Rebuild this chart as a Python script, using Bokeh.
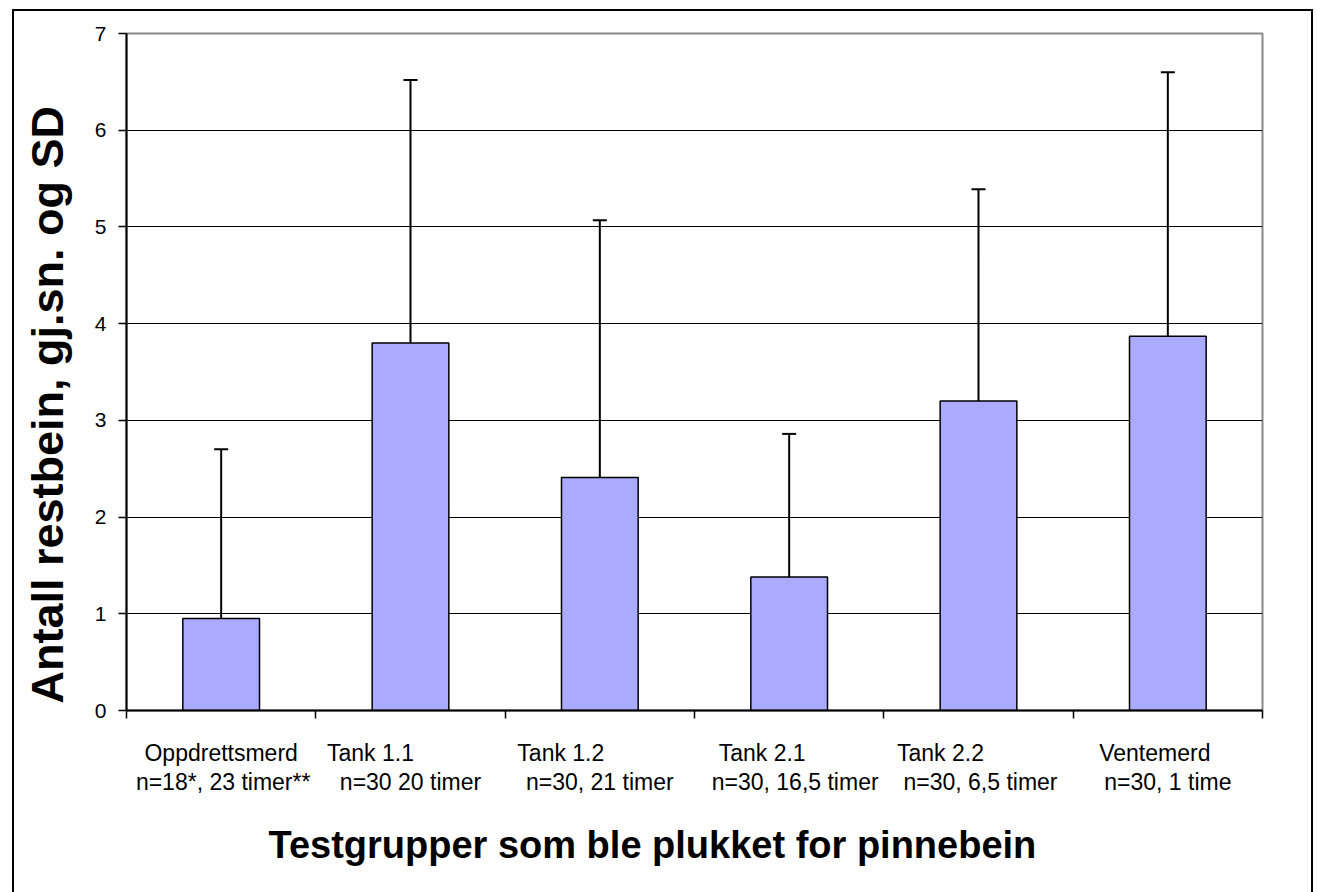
from bokeh.plotting import figure
from bokeh.models import (ColumnDataSource, Range1d, FixedTicker, LinearAxis, Title,
                          Whisker, TeeHead, CustomJSTickFormatter)
from bokeh.embed import file_html
from bokeh.resources import INLINE

# ---- data ----
groups = ["Oppdrettsmerd", "Tank 1.1", "Tank 1.2", "Tank 2.1", "Tank 2.2", "Ventemerd"]
details = ["n=18*, 23 timer**", "n=30 20 timer", "n=30, 21 timer",
           "n=30, 16,5 timer", "n=30, 6,5 timer", "n=30, 1 time"]
means = [0.95, 3.80, 2.41, 1.38, 3.20, 3.87]
sds = [1.75, 2.72, 2.66, 1.48, 2.19, 2.73]
y_ticks = [0, 1, 2, 3, 4, 5, 6, 7]
y_title = "Antall restbein, gj.sn. og SD"
x_title = "Testgrupper som ble plukket for pinnebein"

# label layout (pixel offsets of each label line, styling only)
line1_dx = [0, -40, -39, -27, -38, -13]
line2_dx = [2, 0, 0, 6, 2, 0]

W, H = 1317, 892
BL, BR, BT, BB = 126, 55, 33, 182
n = len(groups)
px_per_unit = (W - BL - BR) / n

xs = [i + 0.5 for i in range(n)]
tops = [m + s for m, s in zip(means, sds)]
src = ColumnDataSource(dict(x=xs, mean=means, top=tops))

p = figure(width=W, height=H, output_backend="svg", toolbar_location=None,
           x_range=Range1d(0, n), y_range=Range1d(0, 7),
           min_border_left=BL, min_border_right=BR, min_border_top=BT,
           min_border_bottom=BB)
p.border_fill_alpha = 0
p.background_fill_color = "white"
p.outline_line_color = "#888888"
p.outline_line_width = 2

# outer chart-area frame (left, right, top edges)
p.styles = {
    "background-image": "linear-gradient(#000,#000), linear-gradient(#000,#000), linear-gradient(#000,#000)",
    "background-size": "2px 100%, 2px 100%, 1301px 2px",
    "background-position": "12px 9px, 1311px 9px, 12px 9px",
    "background-repeat": "no-repeat",
}

# grid
p.xgrid.visible = False
p.ygrid.ticker = FixedTicker(ticks=y_ticks[1:-1])
p.ygrid.grid_line_color = "black"
p.ygrid.grid_line_width = 1

# bars
p.vbar(x="x", top="mean", bottom=0, width=0.405, source=src,
       fill_color="#AAAAFF", line_color="black", line_width=1.5)

# error bars (upper only)
p.add_layout(Whisker(base="x", lower="mean", upper="top", source=src,
                     line_color="black", line_width=2,
                     upper_head=TeeHead(size=14, line_width=2, line_color="black"),
                     lower_head=None))

# y axis
yax = p.yaxis[0]
yax.ticker = FixedTicker(ticks=y_ticks)
yax.axis_line_color = "black"
yax.axis_line_width = 2
yax.major_tick_line_color = "black"
yax.major_tick_line_width = 1.5
yax.major_tick_out = 8
yax.major_tick_in = 0
yax.minor_tick_line_color = None
yax.major_label_standoff = 12
yax.major_label_text_font = "Liberation Sans"
yax.major_label_text_font_size = "21px"
yax.major_label_text_color = "black"

lab_font = dict(major_label_text_font="Liberation Sans",
                major_label_text_font_size="23px",
                major_label_text_color="black")

# x axis 1: category boundary ticks (minor) + first label line
line1_ticks = [x + d / px_per_unit for x, d in zip(xs, line1_dx)]
xax = p.xaxis[0]
xax.ticker = FixedTicker(ticks=line1_ticks, minor_ticks=list(range(n + 1)))
xax.formatter = CustomJSTickFormatter(args=dict(labels=groups), code="return labels[index]")
xax.axis_line_color = "black"
xax.axis_line_width = 2
xax.major_tick_out = 0
xax.major_tick_in = 0
xax.major_tick_line_color = None
xax.minor_tick_line_color = "black"
xax.minor_tick_line_width = 1.5
xax.minor_tick_out = 8
xax.minor_tick_in = 0
xax.major_label_standoff = 21
for k, v in lab_font.items():
    setattr(xax, k, v)

# x axis 2: second label line
line2_ticks = [x + d / px_per_unit for x, d in zip(xs, line2_dx)]
xax2 = LinearAxis(ticker=FixedTicker(ticks=line2_ticks, minor_ticks=[]),
                  formatter=CustomJSTickFormatter(args=dict(labels=details),
                                                  code="return labels[index]"),
                  axis_line_color=None, major_tick_line_color=None,
                  minor_tick_line_color=None, major_tick_out=0, major_tick_in=0,
                  major_label_standoff=0, **lab_font)
p.add_layout(xax2, "below")

# axis titles
p.add_layout(Title(text=x_title, align="left", offset=142, standoff=48,
                   text_font="Liberation Sans", text_font_style="bold",
                   text_font_size="38px", text_color="black"), "below")
p.add_layout(Title(text=y_title, align="left", offset=7, standoff=38,
                   text_font="Liberation Sans", text_font_style="bold",
                   text_font_size="45px", text_color="black"), "left")

open("out.html", "w").write(file_html(p, INLINE))
